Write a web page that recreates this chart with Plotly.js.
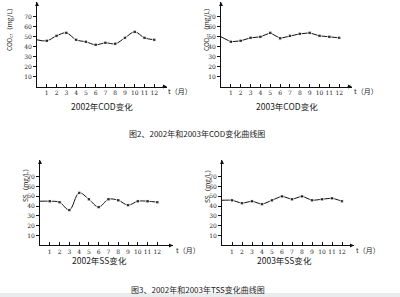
<!DOCTYPE html>
<html><head><meta charset="utf-8">
<script src="https://cdn.plot.ly/plotly-3.0.1.min.js"></script>
<style>html,body{margin:0;padding:0;background:#fff}#c{width:400px;height:297px}</style>
</head><body><div id="c"></div>
<script>
const months = [0,1,2,3,4,5,6,7,8,9,10,11,12];
const monthTicks = [1,2,3,4,5,6,7,8,9,10,11,12];
const yTicks = [10,20,30,40,50,60,70];
const cod2002 = [47,46,51,54,47,45,42,44,43,49,55,49,47];
const cod2003 = [50,45,46,49,50,54,48.5,51,53,54,51,50,49];
const ss2002 = [45,45,44,36,53.5,47,39,47,46,41,45,45,44];
const ss2003 = [46,46,43,45,42,46,50,47,50,46,47,48,45];
const panelTitles = ['2002年COD变化','2003年COD变化','2002年SS变化','2003年SS变化'];
const yTitles = ['COD<sub>cr</sub>（mg/L）','COD<sub>cr</sub>（mg/L）','SS（mg/L）','SS（mg/L）'];
const xTitle = 't（月）';
const captions = ['图2、2002年和2003年COD变化曲线图','图3、2002年和2003年TSS变化曲线图'];

const W=400,H=297;
const px = v=>v/W, py = v=>1-v/H;
const panels = [
  {x0:37, x1:167, yt:2, yb:86.6, xmax:13.3, ymax:85, data:cod2002, shape:'spline', sm:1.0, tx:102, ty:106, ytx:9, yty:28, xtx:180, xty:91},
  {x0:221, x1:352, yt:2, yb:86.6, xmax:13.3, ymax:85, data:cod2003, shape:'linear', sm:0, tx:287, ty:106, ytx:206, yty:28, xtx:366, xty:91},
  {x0:40, x1:173, yt:160, yb:245.4, xmax:13.6, ymax:87, data:ss2002, shape:'spline', sm:1.0, tx:99, ty:260, ytx:25, yty:184, xtx:188, xty:250},
  {x0:222, x1:354, yt:160, yb:245.4, xmax:13.2, ymax:87, data:ss2003, shape:'spline', sm:0.5, tx:284, ty:260, ytx:207, yty:184, xtx:368, xty:250}
];
const tickFont = {family:'DejaVu Serif, serif', size:6, color:'#222'};
const cjk = 'Noto Sans CJK SC, sans-serif';
const traces=[], annotations=[], layout={
  width:W,height:H,margin:{l:0,r:0,t:0,b:0},paper_bgcolor:'#fff',plot_bgcolor:'rgba(0,0,0,0)',showlegend:false,
  shapes:[{type:'rect',xref:'paper',yref:'paper',x0:0,x1:1,y0:0,y1:py(293),fillcolor:'#e8ecec',line:{width:0},layer:'below'}]
};
function txt(x,y,text,size,extra){
  return Object.assign({xref:'paper',yref:'paper',x:px(x),y:py(y),xanchor:'center',yanchor:'middle',text:text,showarrow:false,
    font:{family:cjk,size:size,color:'#222'}},extra||{});
}
panels.forEach((p,i)=>{
  const n=i+1, xa='x'+(n>1?n:''), ya='y'+(n>1?n:'');
  const xk='xaxis'+(n>1?n:''), yk='yaxis'+(n>1?n:'');
  traces.push({x:months,y:p.data,xaxis:xa,yaxis:ya,type:'scatter',mode:'lines+markers',
    line:{color:'#111',width:1,shape:p.shape,smoothing:p.sm},
    marker:{symbol:'square',size:months.map(m=>m===0?0:3.5),color:'#111'},hoverinfo:'skip'});
  layout[xk]={domain:[px(p.x0),px(p.x1)],range:[0,p.xmax],anchor:ya,showline:true,linecolor:'#111',linewidth:1,
    tickvals:monthTicks,ticktext:monthTicks.map(String),tickangle:0,ticks:'inside',ticklen:3,tickcolor:'#111',
    showgrid:false,zeroline:false,tickfont:tickFont,fixedrange:true,automargin:false};
  layout[yk]={domain:[py(p.yb),py(p.yt)],range:[0,p.ymax],anchor:xa,showline:true,linecolor:'#111',linewidth:1,
    tickvals:yTicks,tickangle:0,ticks:'outside',ticklen:3,tickcolor:'#111',showgrid:false,zeroline:false,tickfont:tickFont,fixedrange:true,automargin:false};
  annotations.push({xref:xa,yref:ya,axref:xa,ayref:ya,x:p.xmax,y:0,ax:p.xmax-0.6,ay:0,text:'',showarrow:true,arrowhead:2,arrowsize:0.8,arrowwidth:1,arrowcolor:'#111'});
  annotations.push({xref:xa,yref:ya,axref:xa,ayref:ya,x:0,y:p.ymax,ax:0,ay:p.ymax-5,text:'',showarrow:true,arrowhead:2,arrowsize:0.8,arrowwidth:1,arrowcolor:'#111'});
  annotations.push(txt(p.tx,p.ty,panelTitles[i],8.5));
  annotations.push(txt(p.ytx,p.yty,yTitles[i],6.5,{textangle:-90}));
  annotations.push(txt(p.xtx,p.xty,xTitle,7));
});
annotations.push(txt(197,133,captions[0],8));
annotations.push(txt(198,289,captions[1],8));
layout.annotations=annotations;
Plotly.newPlot('c',traces,layout,{staticPlot:true,displayModeBar:false});
</script></body></html>
